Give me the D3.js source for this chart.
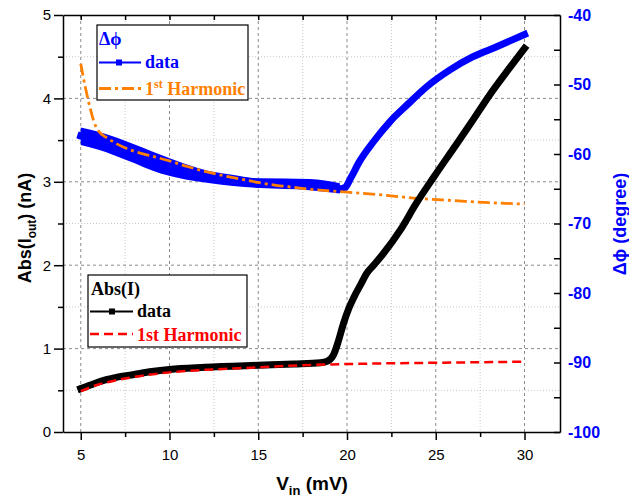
<!DOCTYPE html>
<html>
<head>
<meta charset="utf-8">
<script src="https://cdn.jsdelivr.net/npm/d3@7"></script>
<style>
  html, body { margin: 0; padding: 0; background: #fff; }
  svg { display: block; }
</style>
</head>
<body>
<svg id="chart" width="629" height="500"></svg>
<script>
// Input voltage (mV) and measured |I_out| (nA)
const vinAbs = [5, 5.5, 6, 7, 8, 9, 10, 12, 15, 17, 18.5, 18.9, 19.25, 19.5, 19.8, 20.1, 20.4, 20.8, 21.1, 21.5, 22.05, 23, 23.9, 24.9, 26, 27, 28, 29, 30];
const absData = [0.52, 0.56, 0.60, 0.655, 0.69, 0.725, 0.75, 0.775, 0.80, 0.815, 0.83, 0.85, 0.93, 1.08, 1.30, 1.48, 1.62, 1.78, 1.90, 2.00, 2.14, 2.42, 2.74, 3.06, 3.40, 3.71, 4.03, 4.32, 4.60];

// First-harmonic model of |I|
const vinFit = [5, 6, 7, 8, 10, 12, 15, 17.35, 20, 25, 30];
const absFit = [0.49, 0.57, 0.62, 0.66, 0.715, 0.745, 0.775, 0.80, 0.815, 0.83, 0.843];

// Measured phase shift (degree)
const vinPhase = [5, 5.5, 6, 7, 8, 9, 10, 11, 12, 13, 14, 15, 16, 17, 18, 19, 19.6, 19.9, 20.2, 20.7, 21.5, 22.4, 23.4, 24.5, 25.8, 27.1, 28.4, 30];
const phaseData = [-57.4, -57.8, -58.1, -59.0, -59.9, -60.8, -61.6, -62.3, -62.9, -63.3, -63.7, -64.1, -64.3, -64.4, -64.5, -64.7, -65.0, -64.8, -63.5, -61.1, -58.2, -55.4, -52.9, -50.3, -47.9, -46.0, -44.6, -42.8];

// Scatter envelope of the phase measurement in the low-voltage region
const vinBand = [5, 6, 7.6, 9.5, 12.3, 15.1, 17.9, 19.6];
const phaseUpper = [-56.2, -56.8, -58.2, -60.1, -62.5, -63.5, -63.6, -64.2];
const phaseLower = [-58.7, -59.4, -60.9, -62.8, -64.2, -64.9, -65.2, -65.7];

// First-harmonic model of the phase
const vinHarm = [5, 5.25, 5.5, 5.75, 6, 6.5, 7, 8, 9, 10, 11, 12, 13, 14, 15, 16, 17, 18, 19, 20, 22, 24, 26, 28, 30];
const phaseHarm = [-47.0, -50.3, -53.1, -55.4, -56.7, -57.7, -58.5, -59.6, -60.3, -61.0, -61.8, -62.5, -63.1, -63.6, -64.1, -64.5, -64.8, -65.1, -65.3, -65.5, -65.9, -66.4, -66.7, -67.0, -67.2];

// Tick values
const xTicks = [5, 10, 15, 20, 25, 30];
const xMinor = [7.5, 12.5, 17.5, 22.5, 27.5];
const yTicks = [0, 1, 2, 3, 4, 5];
const yMinor = [0.5, 1.5, 2.5, 3.5, 4.5];
const phaseTicks = [-40, -50, -60, -70, -80, -90, -100];
const phaseMinor = [-45, -55, -65, -75, -85, -95];

const svg = d3.select("#chart");
const L = 63, R = 560, T = 15, B = 432;

const x = d3.scaleLinear().domain([4, 32]).range([L, R]);
const y = d3.scaleLinear().domain([0, 5]).range([B, T]);
const yP = d3.scaleLinear().domain([-100, -40]).range([B, T]);

const BLUE = "#0000ff", ORANGE = "#ff8000", RED = "#ff0000";
const sans = "Liberation Sans, Arial, sans-serif";
const serif = "Liberation Serif, Times New Roman, serif";
const plain = d => String(d);

// Grid
const grid = svg.append("g");
xMinor.forEach(v => grid.append("line").attr("x1", x(v)).attr("x2", x(v)).attr("y1", T).attr("y2", B)
  .attr("stroke", "#c8c8c8").attr("stroke-width", 1).attr("stroke-dasharray", "1,2"));
yMinor.forEach(v => grid.append("line").attr("x1", L).attr("x2", R).attr("y1", y(v)).attr("y2", y(v))
  .attr("stroke", "#c8c8c8").attr("stroke-width", 1).attr("stroke-dasharray", "1,2"));
xTicks.forEach(v => grid.append("line").attr("x1", x(v)).attr("x2", x(v)).attr("y1", T).attr("y2", B)
  .attr("stroke", "#8a8a8a").attr("stroke-width", 1).attr("stroke-dasharray", "3,3"));
yTicks.filter(v => v > 0 && v < 5).forEach(v => grid.append("line").attr("x1", L).attr("x2", R).attr("y1", y(v)).attr("y2", y(v))
  .attr("stroke", "#8a8a8a").attr("stroke-width", 1).attr("stroke-dasharray", "3,3"));

// Phase series
const phaseBand = d3.area()
  .x((d, i) => x(vinBand[i]))
  .y0((d, i) => yP(phaseLower[i]))
  .y1((d, i) => yP(phaseUpper[i]))
  .curve(d3.curveMonotoneX);
svg.append("path").datum(vinBand).attr("d", phaseBand).attr("fill", BLUE);

const phaseLine = d3.line().x(d => x(d[0])).y(d => yP(d[1])).curve(d3.curveMonotoneX);
svg.append("path").datum(vinPhase.map((v, i) => [v, phaseData[i]]))
  .attr("d", phaseLine).attr("fill", "none").attr("stroke", BLUE)
  .attr("stroke-width", 7).attr("stroke-linejoin", "round").attr("stroke-linecap", "square");

svg.append("path").datum(vinHarm.map((v, i) => [v, phaseHarm[i]]))
  .attr("d", phaseLine).attr("fill", "none").attr("stroke", ORANGE)
  .attr("stroke-width", 2.8).attr("stroke-dasharray", "12,4,3,4");

// |I| series
const absLine = d3.line().x(d => x(d[0])).y(d => y(d[1])).curve(d3.curveMonotoneX);
svg.append("path").datum(vinAbs.map((v, i) => [v, absData[i]]))
  .attr("d", absLine).attr("fill", "none").attr("stroke", "#000")
  .attr("stroke-width", 7).attr("stroke-linejoin", "round").attr("stroke-linecap", "square");

svg.append("path").datum(vinFit.map((v, i) => [v, absFit[i]]))
  .attr("d", absLine).attr("fill", "none").attr("stroke", RED)
  .attr("stroke-width", 2.5).attr("stroke-dasharray", "9,5");

// Axes
function styleAxis(g) {
  g.select(".domain").attr("stroke", "#000").attr("stroke-width", 1.5);
  g.selectAll(".tick line").attr("stroke", "#000").attr("stroke-width", 1.5);
}

const gB = svg.append("g").attr("transform", `translate(0,${B})`)
  .call(d3.axisBottom(x).tickValues(xTicks).tickFormat(plain).tickSize(8).tickPadding(9).tickSizeOuter(0));
gB.selectAll("text").attr("font-family", sans).attr("font-size", 15).attr("fill", "#000");
styleAxis(gB);
svg.append("g").attr("transform", `translate(0,${B})`)
  .call(d3.axisBottom(x).tickValues(xMinor).tickSize(5).tickFormat("").tickSizeOuter(0))
  .call(styleAxis).select(".domain").remove();

const gT = svg.append("g").attr("transform", `translate(0,${T})`)
  .call(d3.axisTop(x).tickValues(xTicks.concat(xMinor)).tickSize(-5).tickFormat("").tickSizeOuter(0));
styleAxis(gT);

const gL = svg.append("g").attr("transform", `translate(${L},0)`)
  .call(d3.axisLeft(y).tickValues(yTicks).tickFormat(plain).tickSize(9).tickPadding(3).tickSizeOuter(0));
gL.selectAll("text").attr("font-family", sans).attr("font-size", 15).attr("fill", "#000");
styleAxis(gL);
svg.append("g").attr("transform", `translate(${L},0)`)
  .call(d3.axisLeft(y).tickValues(yMinor).tickSize(5).tickFormat("").tickSizeOuter(0))
  .call(styleAxis).select(".domain").remove();

const gR = svg.append("g").attr("transform", `translate(${R},0)`)
  .call(d3.axisRight(yP).tickValues(phaseTicks).tickFormat(plain).tickSize(-6).tickPadding(8).tickSizeOuter(0));
gR.selectAll("text").attr("font-family", sans).attr("font-size", 16).attr("font-weight", "bold").attr("fill", BLUE);
styleAxis(gR);
svg.append("g").attr("transform", `translate(${R},0)`)
  .call(d3.axisRight(yP).tickValues(phaseMinor).tickSize(-6).tickFormat("").tickSizeOuter(0))
  .call(styleAxis).select(".domain").remove();

// Axis titles
const xt = svg.append("text").attr("x", 312).attr("y", 490).attr("text-anchor", "middle")
  .attr("font-family", sans).attr("font-size", 19).attr("font-weight", "bold");
xt.append("tspan").text("V");
xt.append("tspan").attr("font-size", 13).attr("dy", 5).text("in");
xt.append("tspan").attr("dy", -5).text(" (mV)");

const ylt = svg.append("text").attr("transform", "translate(31,228) rotate(-90)").attr("text-anchor", "middle")
  .attr("font-family", sans).attr("font-size", 18).attr("font-weight", "bold");
ylt.append("tspan").text("Abs(I");
ylt.append("tspan").attr("font-size", 12).attr("dy", 5).text("out");
ylt.append("tspan").attr("dy", -5).text(") (nA)");

svg.append("text").attr("transform", "translate(626,224) rotate(-90)").attr("text-anchor", "middle")
  .attr("font-family", sans).attr("font-size", 18).attr("font-weight", "bold").attr("fill", BLUE)
  .text("Δϕ (degree)");

// Legend: phase
const lg1 = svg.append("g");
lg1.append("rect").attr("x", 97).attr("y", 25).attr("width", 151).attr("height", 75)
  .attr("fill", "#fff").attr("stroke", "#000").attr("stroke-width", 1.2);
lg1.append("text").attr("x", 99).attr("y", 45).attr("font-family", serif).attr("font-size", 18)
  .attr("font-weight", "bold").attr("fill", BLUE).text("Δϕ");
lg1.append("line").attr("x1", 99).attr("x2", 141).attr("y1", 62.5).attr("y2", 62.5)
  .attr("stroke", BLUE).attr("stroke-width", 2);
lg1.append("rect").attr("x", 116).attr("y", 59.5).attr("width", 6).attr("height", 6).attr("fill", BLUE);
lg1.append("text").attr("x", 145).attr("y", 68).attr("font-family", serif).attr("font-size", 18)
  .attr("font-weight", "bold").attr("fill", BLUE).text("data");
lg1.append("line").attr("x1", 99).attr("x2", 141).attr("y1", 88.5).attr("y2", 88.5)
  .attr("stroke", ORANGE).attr("stroke-width", 2.8).attr("stroke-dasharray", "12,4,3,4");
const h1 = lg1.append("text").attr("x", 145).attr("y", 95).attr("font-family", serif).attr("font-size", 18)
  .attr("font-weight", "bold").attr("fill", ORANGE);
h1.append("tspan").text("1");
h1.append("tspan").attr("font-size", 12).attr("dy", -7).text("st");
h1.append("tspan").attr("dy", 7).text(" Harmonic");

// Legend: |I|
const lg2 = svg.append("g");
lg2.append("rect").attr("x", 88).attr("y", 275).attr("width", 159).attr("height", 72)
  .attr("fill", "#fff").attr("stroke", "#000").attr("stroke-width", 1.2);
lg2.append("text").attr("x", 91).attr("y", 295).attr("font-family", serif).attr("font-size", 18)
  .attr("font-weight", "bold").attr("fill", "#000").text("Abs(I)");
lg2.append("line").attr("x1", 90).attr("x2", 133).attr("y1", 311.5).attr("y2", 311.5)
  .attr("stroke", "#000").attr("stroke-width", 2);
lg2.append("rect").attr("x", 109).attr("y", 308.5).attr("width", 6).attr("height", 6).attr("fill", "#000");
lg2.append("text").attr("x", 137).attr("y", 317).attr("font-family", serif).attr("font-size", 18)
  .attr("font-weight", "bold").attr("fill", "#000").text("data");
lg2.append("line").attr("x1", 90).attr("x2", 133).attr("y1", 334).attr("y2", 334)
  .attr("stroke", RED).attr("stroke-width", 2.5).attr("stroke-dasharray", "9,5");
lg2.append("text").attr("x", 137).attr("y", 341).attr("font-family", serif).attr("font-size", 18)
  .attr("font-weight", "bold").attr("fill", RED).text("1st Harmonic");
</script>
</body>
</html>
